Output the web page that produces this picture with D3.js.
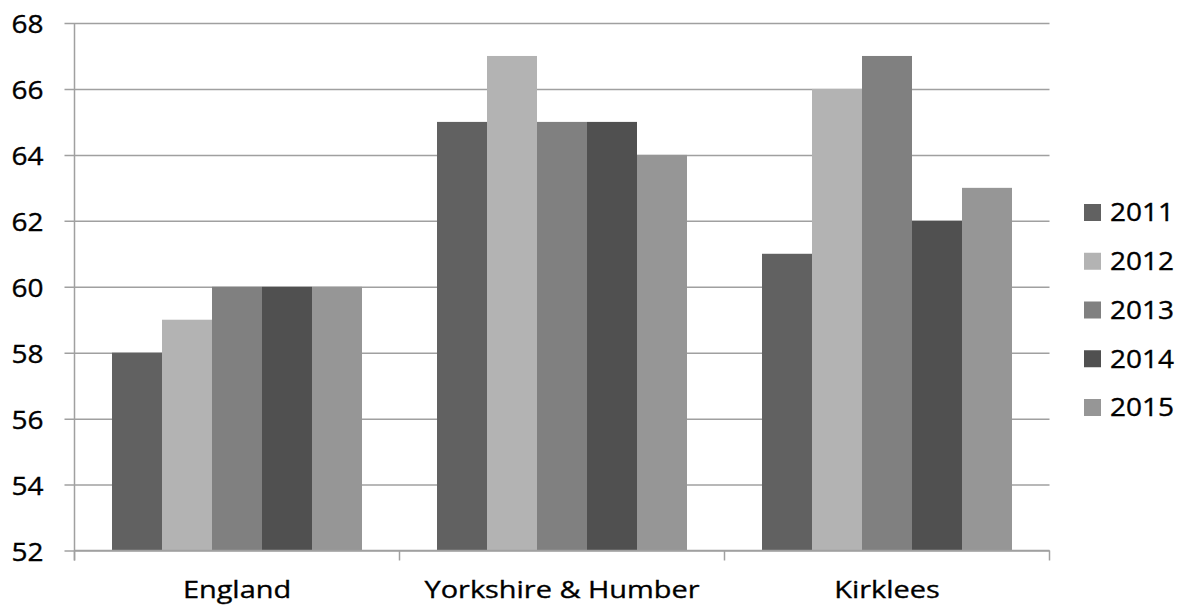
<!DOCTYPE html>
<html>
<head>
<meta charset="utf-8">
<script src="https://cdn.jsdelivr.net/npm/d3@7"></script>
<style>
  html, body { margin: 0; padding: 0; background: #fff; }
  svg text { font-family: "Open Sans", "Liberation Sans", sans-serif; fill: #000; stroke: #000; stroke-width: 0.35px; }
</style>
</head>
<body>
<svg id="chart" width="1188" height="606"></svg>
<script>
const categories = ["England", "Yorkshire & Humber", "Kirklees"];
const years = ["2011", "2012", "2013", "2014", "2015"];
const values2011 = [58, 65, 61];
const values2012 = [59, 67, 66];
const values2013 = [60, 65, 67];
const values2014 = [60, 65, 62];
const values2015 = [60, 64, 63];
const yTicks = [52, 54, 56, 58, 60, 62, 64, 66, 68];
const colors = ["#616161", "#b3b3b3", "#808080", "#505050", "#969696"];

(function () {
const seriesValues = [values2011, values2012, values2013, values2014, values2015];
const svg = d3.select("#chart");
const stretch = 1.12;
const catStretch = 1.18;

const pLeft = 74.5, pRight = 1049.5, pTop = 23, pBottom = 550.5;
const x0 = d3.scaleBand().domain(categories).range([pLeft, pRight]).paddingInner(0).paddingOuter(0);
const x1 = d3.scaleBand().domain(years).range([0, x0.bandwidth()]).paddingInner(0).paddingOuter(0.75);
const y = d3.scaleLinear().domain([52, 68]).range([pBottom, pTop]);

const gridColor = "#a0a0a0";

const yAxis = d3.axisLeft(y).tickValues(yTicks).tickSize(-(pRight - pLeft)).tickSizeOuter(0);
const gy = svg.append("g").attr("transform", `translate(${pLeft},0)`).call(yAxis);
gy.select(".domain").remove();
gy.selectAll(".tick line").attr("stroke", gridColor).attr("stroke-width", 1.5).attr("x1", -10);
gy.selectAll(".tick text")
  .attr("x", 0)
  .attr("transform", `translate(-31,0) scale(${stretch},1)`)
  .style("font-size", "25px")
  .attr("dy", "0.39em");

svg.append("line").attr("x1", pLeft).attr("x2", pLeft).attr("y1", pTop).attr("y2", pBottom + 10)
  .attr("stroke", gridColor).attr("stroke-width", 1.5);

const data = categories.map((c, i) => ({ cat: c, vals: years.map((yr, j) => ({ yr, j, v: seriesValues[j][i] })) }));
const groups = svg.append("g").selectAll("g").data(data).join("g")
  .attr("transform", d => `translate(${x0(d.cat)},0)`);
groups.selectAll("rect").data(d => d.vals).join("rect")
  .attr("x", d => x1(d.yr))
  .attr("width", x1.bandwidth())
  .attr("y", d => y(d.v))
  .attr("height", d => y(52) - y(d.v))
  .attr("fill", d => colors[d.j]);

const xAxis = d3.axisBottom(x0).tickSize(0);
const gx = svg.append("g").attr("transform", `translate(0,${pBottom})`).call(xAxis);
gx.select(".domain").remove();
gx.selectAll(".tick text")
  .attr("y", 0).attr("dy", 0)
  .attr("transform", `translate(0,47) scale(${catStretch},1)`)
  .style("font-size", "24.5px");
svg.append("line").attr("x1", pLeft).attr("x2", pRight).attr("y1", pBottom).attr("y2", pBottom)
  .attr("stroke", gridColor).attr("stroke-width", 1.5);
const boundaries = categories.map(c => x0(c)).concat([pRight]);
svg.append("g").selectAll("line").data(boundaries).join("line")
  .attr("x1", d => d).attr("x2", d => d).attr("y1", pBottom).attr("y2", pBottom + 10)
  .attr("stroke", gridColor).attr("stroke-width", 1.5);

const legend = svg.append("g").attr("transform", "translate(1084,0)");
const ly = d3.scalePoint().domain(years).range([212.5, 407.5]);
const li = legend.selectAll("g").data(years).join("g").attr("transform", d => `translate(0,${ly(d)})`);
li.append("rect").attr("x", 0).attr("y", -8.5).attr("width", 17).attr("height", 17)
  .attr("fill", (d, i) => colors[i]);
li.append("text").attr("transform", `translate(26,0) scale(${stretch},1)`)
  .attr("dy", "0.35em").style("font-size", "25px").text(d => d);
})();
</script>
</body>
</html>
